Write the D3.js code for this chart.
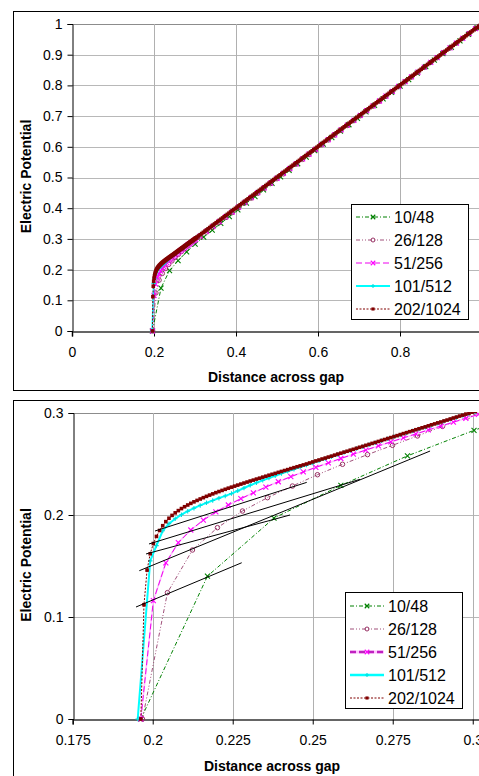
<!DOCTYPE html>
<html>
<head>
<meta charset="utf-8">
<script src="https://cdn.jsdelivr.net/npm/d3@7"></script>
<style>
  body { margin: 0; background: #fff; }
  svg { display: block; }
  text { font-family: "Liberation Sans", Arial, sans-serif; fill: #000; }
</style>
</head>
<body>
<svg id="chart" width="479" height="776"></svg>
<script>
// Series labels (cells across gap / total cells)
const seriesNames = ["10/48", "26/128", "51/256", "101/512", "202/1024"];

// 10/48 mesh: [distance, potential]
const s10 = [[0.1963,0],[0.2171,0.140],[0.2379,0.197],[0.2588,0.229],[0.2796,0.258],[0.3004,0.283],
  [0.3213,0.306],[0.3421,0.3285],[0.3629,0.3507],[0.3838,0.3728],[0.4046,0.3946],[0.4254,0.4163],
  [0.4463,0.4380],[0.4671,0.4595],[0.4879,0.4809],[0.5088,0.5023],[0.5296,0.5236],[0.5504,0.5448],
  [0.5713,0.5661],[0.5921,0.5873],[0.6129,0.6084],[0.6338,0.6296],[0.6546,0.6507],[0.6754,0.6718],
  [0.6963,0.6929],[0.7171,0.7139],[0.7379,0.7349],[0.7588,0.7560],[0.7796,0.7770],[0.8004,0.7980],
  [0.8213,0.8191],[0.8421,0.8401],[0.8629,0.8611],[0.8838,0.8822],[0.9046,0.9032],[0.9254,0.9242],
  [0.9463,0.9453],[0.9671,0.9663],[0.9879,0.9874],[1,1]];

// 26/128 mesh
const s26 = [[0.1968,0],[0.20461,0.1239],[0.21242,0.1657],[0.22023,0.1876],[0.22805,0.2039],
  [0.23586,0.2170],[0.24367,0.2284],[0.25148,0.2395],[0.2593,0.2497],[0.26711,0.2592],
  [0.27492,0.2683],[0.28273,0.2775],[0.29055,0.2869],[0.29836,0.2961],[0.30617,0.3046],
  [0.3125,0.3068],[0.32813,0.3226],[0.34375,0.3384],[0.35938,0.3541],[0.375,0.3699],[0.39063,0.3857],
  [0.40625,0.4014],[0.42188,0.4172],[0.4375,0.4330],[0.45313,0.4487],[0.46875,0.4645],[0.48438,0.4803],
  [0.5,0.4961],[0.51563,0.5118],[0.53125,0.5276],[0.54688,0.5434],[0.5625,0.5591],[0.57813,0.5749],
  [0.59375,0.5907],[0.60938,0.6065],[0.625,0.6222],[0.64063,0.6380],[0.65625,0.6538],[0.67188,0.6696],
  [0.6875,0.6853],[0.70313,0.7011],[0.71875,0.7169],[0.73438,0.7327],[0.75,0.7484],[0.76563,0.7642],
  [0.78125,0.7800],[0.79688,0.7958],[0.8125,0.8116],[0.82813,0.8273],[0.84375,0.8431],[0.85938,0.8589],
  [0.875,0.8747],[0.89063,0.8905],[0.90625,0.9062],[0.92188,0.9220],[0.9375,0.9378],[0.95313,0.9536],
  [0.96875,0.9694],[0.98438,0.9852],[1,1]];

// 51/256 mesh
const s51 = [[0.19629,0],[0.2002,0.116],[0.2041,0.153],[0.20801,0.173],[0.21191,0.1853],[0.21582,0.1950],
  [0.21973,0.2030],[0.22363,0.2098],[0.22754,0.2160],[0.23145,0.2218],[0.23535,0.2274],[0.23926,0.2326],
  [0.24316,0.2376],[0.24707,0.2422],[0.25098,0.2467],[0.25488,0.2511],[0.25879,0.2554],[0.2627,0.2596],
  [0.2666,0.2637],[0.27051,0.2677],[0.27441,0.2717],[0.27832,0.2756],[0.28223,0.2795],[0.28613,0.2834],
  [0.29004,0.2872],[0.29395,0.2910],[0.29785,0.2948],[0.30176,0.2986],
  [0.3125,0.3090],[0.32813,0.3248],[0.34375,0.3405],[0.35938,0.3562],[0.375,0.3719],[0.39063,0.3876],
  [0.40625,0.4033],[0.42188,0.4190],[0.4375,0.4347],[0.45313,0.4504],[0.46875,0.4661],[0.48438,0.4818],
  [0.5,0.4976],[0.51563,0.5133],[0.53125,0.5290],[0.54688,0.5447],[0.5625,0.5604],[0.57813,0.5762],
  [0.59375,0.5919],[0.60938,0.6076],[0.625,0.6234],[0.64063,0.6391],[0.65625,0.6548],[0.67188,0.6706],
  [0.6875,0.6863],[0.70313,0.7020],[0.71875,0.7178],[0.73438,0.7335],[0.75,0.7492],[0.76563,0.7650],
  [0.78125,0.7807],[0.79688,0.7964],[0.8125,0.8121],[0.82813,0.8279],[0.84375,0.8436],[0.85938,0.8593],
  [0.875,0.8750],[0.89063,0.8907],[0.90625,0.9064],[0.92188,0.9220],[0.9375,0.9377],[0.95313,0.9534],
  [0.96875,0.9690],[0.98438,0.9846],[1,1]];

// 101/512 mesh
const s101 = [[0.19531,0],[0.19922,0.155],[0.20117,0.170],[0.20313,0.1845],[0.20508,0.1915],[0.20703,0.1963],
  [0.20898,0.2003],[0.21094,0.2037],[0.21289,0.2067],[0.21484,0.2094],[0.2168,0.2119],[0.21875,0.2142],
  [0.2207,0.2165],[0.22266,0.2187],[0.22461,0.2210],[0.22656,0.2237],[0.22852,0.2265],[0.23047,0.2292],
  [0.23242,0.2316],[0.23438,0.2340],[0.23633,0.2363],[0.23828,0.2385],[0.24023,0.2407],[0.24219,0.2428],
  [0.24414,0.2449],[0.24609,0.2469],[0.24805,0.2489],[0.25,0.2510],[0.25195,0.2531],[0.25391,0.2551],
  [0.25586,0.2571],[0.25781,0.2592],[0.25977,0.2612],[0.26172,0.2631],[0.26367,0.2651],[0.26563,0.2670],
  [0.26758,0.2689],[0.26953,0.2708],[0.27148,0.2728],[0.27344,0.2747],[0.27539,0.2766],[0.27734,0.2785],
  [0.2793,0.2804],[0.28125,0.2823],[0.2832,0.2842],[0.28516,0.2861],[0.28711,0.2881],[0.28906,0.2900],
  [0.29102,0.2919],[0.29297,0.2938],[0.29492,0.2957],[0.29688,0.2976],[0.29883,0.2995],[0.30078,0.3014],
  [0.30273,0.3033],
  [0.3125,0.3130],[0.32813,0.3286],[0.34375,0.3442],[0.35938,0.3598],[0.375,0.3754],[0.39063,0.3910],
  [0.40625,0.4066],[0.42188,0.4222],[0.4375,0.4378],[0.45313,0.4534],[0.46875,0.4690],[0.48438,0.4846],
  [0.5,0.5002],[0.51563,0.5158],[0.53125,0.5314],[0.54688,0.5470],[0.5625,0.5626],[0.57813,0.5782],
  [0.59375,0.5938],[0.60938,0.6094],[0.625,0.6250],[0.64063,0.6406],[0.65625,0.6562],[0.67188,0.6719],
  [0.6875,0.6875],[0.70313,0.7031],[0.71875,0.7187],[0.73438,0.7344],[0.75,0.7500],[0.76563,0.7656],
  [0.78125,0.7812],[0.79688,0.7969],[0.8125,0.8125],[0.82813,0.8281],[0.84375,0.8437],[0.85938,0.8594],
  [0.875,0.8750],[0.89063,0.8906],[0.90625,0.9062],[0.92188,0.9219],[0.9375,0.9375],[0.95313,0.9531],
  [0.96875,0.9687],[0.98438,0.9844],[1,1]];

// 202/1024 mesh, near the gap
const s202near = [[0.19629,0],[0.19727,0.112],[0.19824,0.146],[0.19922,0.162],[0.2002,0.172],[0.20117,0.179],
  [0.20215,0.1848],[0.20313,0.1895],[0.2041,0.1935],[0.20508,0.1968],[0.20605,0.1996],[0.20703,0.2021],
  [0.20801,0.2043],[0.20898,0.2063],[0.20996,0.2081],[0.21094,0.2098],[0.21191,0.2114],[0.21289,0.2129],
  [0.21387,0.2143],[0.21484,0.2157],[0.21582,0.2170],[0.2168,0.2183],[0.21777,0.2195],[0.21875,0.2207],
  [0.21973,0.2219],[0.2207,0.2230],[0.22168,0.2241],[0.22266,0.2252],[0.22363,0.2263],[0.22461,0.2273],
  [0.22559,0.2283],[0.22656,0.2293],[0.22754,0.2303],[0.22852,0.2313],[0.22949,0.2323],[0.23047,0.2333],
  [0.23145,0.2342],[0.23242,0.2352],[0.2334,0.2361],[0.23438,0.2371],[0.23535,0.2380],[0.23633,0.2390],
  [0.2373,0.2399],[0.23828,0.2408],[0.23926,0.2418],[0.24023,0.2427],[0.24121,0.2436],[0.24219,0.2445],
  [0.24316,0.2455],[0.24414,0.2464],[0.24512,0.2473],[0.24609,0.2482],[0.24707,0.2491],[0.24805,0.2500],
  [0.24902,0.2510],[0.25,0.2520],[0.25098,0.2530],[0.25195,0.2539],[0.25293,0.2549],[0.25391,0.2558],
  [0.25488,0.2568],[0.25586,0.2577],[0.25684,0.2587],[0.25781,0.2597],[0.25879,0.2606],[0.25977,0.2616],
  [0.26074,0.2625],[0.26172,0.2635],[0.2627,0.2644],[0.26367,0.2654],[0.26465,0.2664],[0.26563,0.2673],
  [0.2666,0.2683],[0.26758,0.2692],[0.26855,0.2702],[0.26953,0.2711],[0.27051,0.2721],[0.27148,0.2731],
  [0.27246,0.2740],[0.27344,0.2750],[0.27441,0.2759],[0.27539,0.2769],[0.27637,0.2778],[0.27734,0.2788],
  [0.27832,0.2798],[0.2793,0.2807],[0.28027,0.2817],[0.28125,0.2826],[0.28223,0.2836],[0.2832,0.2845],
  [0.28418,0.2855],[0.28516,0.2864],[0.28613,0.2874],[0.28711,0.2884],[0.28809,0.2893],[0.28906,0.2903],
  [0.29004,0.2912],[0.29102,0.2922],[0.29199,0.2931],[0.29297,0.2941],[0.29395,0.2951],[0.29492,0.2960],
  [0.2959,0.2970],[0.29688,0.2979],[0.29785,0.2989],[0.29883,0.2998],[0.2998,0.3008],[0.30078,0.3017],
  [0.30176,0.3027],[0.30273,0.3036]];

// 202/1024 mesh, remainder of the span (every fourth node)
const s202far = [[0.30469,0.3057],[0.30859,0.3096],[0.3125,0.3135],[0.31641,0.3174],[0.32031,0.3213],
  [0.32422,0.3252],[0.32813,0.3291],[0.33203,0.3330],[0.33594,0.3369],[0.33984,0.3408],[0.34375,0.3448],
  [0.34766,0.3487],[0.35156,0.3526],[0.35547,0.3565],[0.35938,0.3604],[0.36328,0.3643],[0.36719,0.3682],
  [0.37109,0.3721],[0.375,0.3760],[0.37891,0.3799],[0.38281,0.3838],[0.38672,0.3877],[0.39063,0.3916],
  [0.39453,0.3955],[0.39844,0.3994],[0.40234,0.4033],[0.40625,0.4073],[0.41016,0.4112],[0.41406,0.4151],
  [0.41797,0.4190],[0.42188,0.4229],[0.42578,0.4268],[0.42969,0.4307],[0.43359,0.4346],[0.4375,0.4385],
  [0.44141,0.4424],[0.44531,0.4463],[0.44922,0.4502],[0.45313,0.4541],[0.45703,0.4580],[0.46094,0.4619],
  [0.46484,0.4658],[0.46875,0.4698],[0.47266,0.4737],[0.47656,0.4776],[0.48047,0.4815],[0.48438,0.4854],
  [0.48828,0.4893],[0.49219,0.4932],[0.49609,0.4971],[0.5,0.5010],[0.50391,0.5049],[0.50781,0.5088],
  [0.51172,0.5127],[0.51563,0.5166],[0.51953,0.5205],[0.52344,0.5244],[0.52734,0.5283],[0.53125,0.5323],
  [0.53516,0.5362],[0.53906,0.5401],[0.54297,0.5440],[0.54688,0.5479],[0.55078,0.5518],[0.55469,0.5557],
  [0.55859,0.5596],[0.5625,0.5635],[0.56641,0.5674],[0.57031,0.5713],[0.57422,0.5752],[0.57813,0.5791],
  [0.58203,0.5830],[0.58594,0.5869],[0.58984,0.5908],[0.59375,0.5948],[0.59766,0.5987],[0.60156,0.6026],
  [0.60547,0.6065],[0.60938,0.6104],[0.61328,0.6143],[0.61719,0.6182],[0.62109,0.6221],[0.625,0.6260],
  [0.62891,0.6299],[0.63281,0.6338],[0.63672,0.6377],[0.64063,0.6416],[0.64453,0.6455],[0.64844,0.6494],
  [0.65234,0.6533],[0.65625,0.6573],[0.66016,0.6612],[0.66406,0.6651],[0.66797,0.6690],[0.67188,0.6729],
  [0.67578,0.6768],[0.67969,0.6807],[0.68359,0.6846],[0.6875,0.6885],[0.69141,0.6924],[0.69531,0.6963],
  [0.69922,0.7002],[0.70313,0.7041],[0.70703,0.7080],[0.71094,0.7119],[0.71484,0.7158],[0.71875,0.7198],
  [0.72266,0.7237],[0.72656,0.7276],[0.73047,0.7315],[0.73438,0.7354],[0.73828,0.7393],[0.74219,0.7432],
  [0.74609,0.7471],[0.75,0.7510],[0.75391,0.7549],[0.75781,0.7588],[0.76172,0.7627],[0.76563,0.7666],
  [0.76953,0.7705],[0.77344,0.7744],[0.77734,0.7783],[0.78125,0.7823],[0.78516,0.7862],[0.78906,0.7901],
  [0.79297,0.7940],[0.79688,0.7979],[0.80078,0.8018],[0.80469,0.8057],[0.80859,0.8096],[0.8125,0.8135],
  [0.81641,0.8174],[0.82031,0.8213],[0.82422,0.8252],[0.82813,0.8291],[0.83203,0.8330],[0.83594,0.8369],
  [0.83984,0.8408],[0.84375,0.8448],[0.84766,0.8487],[0.85156,0.8526],[0.85547,0.8565],[0.85938,0.8604],
  [0.86328,0.8643],[0.86719,0.8682],[0.87109,0.8721],[0.875,0.8760],[0.87891,0.8799],[0.88281,0.8838],
  [0.88672,0.8877],[0.89063,0.8916],[0.89453,0.8955],[0.89844,0.8994],[0.90234,0.9033],[0.90625,0.9073],
  [0.91016,0.9112],[0.91406,0.9151],[0.91797,0.9190],[0.92188,0.9229],[0.92578,0.9268],[0.92969,0.9307],
  [0.93359,0.9346],[0.9375,0.9385],[0.94141,0.9424],[0.94531,0.9463],[0.94922,0.9502],[0.95313,0.9541],
  [0.95703,0.9580],[0.96094,0.9619],[0.96484,0.9658],[0.96875,0.9698],[0.97266,0.9737],[0.97656,0.9776],
  [0.98047,0.9815],[0.98438,0.9854],[0.98828,0.9891],[0.99219,0.9930],[0.99609,0.9966],[1,1]];

const s202 = s202near.concat(s202far);

// Straight reference lines drawn on the close-up: [x1, y1, x2, y2]
const refLines = [
  [0.20072, 0.1843, 0.24813, 0.2320],
  [0.19884, 0.1716, 0.26478, 0.2350],
  [0.19791, 0.1618, 0.24291, 0.2000],
  [0.19581, 0.1454, 0.28666, 0.2627],
  [0.19478, 0.1098, 0.22781, 0.1532]
];

// Tick labels
const fullXTicks = ["0", "0.2", "0.4", "0.6", "0.8", "1"];
const fullYTicks = ["0", "0.1", "0.2", "0.3", "0.4", "0.5", "0.6", "0.7", "0.8", "0.9", "1"];
const zoomXTicks = ["0.175", "0.2", "0.225", "0.25", "0.275", "0.3"];
const zoomYTicks = ["0", "0.1", "0.2", "0.3"];

const seriesData = [s10, s26, s51, s101, s202];

// Line + marker styles per series
const styles = [
  { color: "#008000", dash: "4,2,1,2", width: 1, marker: "x", mcolor: "#008000" },
  { color: "#a0507a", dash: "4,2,1,2,1,2", width: 1, marker: "circle", mcolor: "#993366" },
  { color: "#ee00ee", dash: "6,3", width: 1, marker: "x", mcolor: "#ff00ff", under: "#ffc4ff" },
  { color: "#00ffff", dash: null, width: 1.5, marker: "plus", mcolor: "#00e0e0" },
  { color: "#800000", dash: "2,1.5", width: 1, marker: "square", mcolor: "#800000" }
];

const svg = d3.select("#chart");

function drawMarker(g, type, color, px, py, s) {
  if (type === "square") {
    g.append("rect").attr("x", px - s / 2).attr("y", py - s / 2).attr("width", s).attr("height", s)
      .attr("fill", color);
  } else if (type === "circle") {
    g.append("circle").attr("cx", px).attr("cy", py).attr("r", s / 2)
      .attr("fill", "none").attr("stroke", color).attr("stroke-width", 1);
  } else if (type === "x") {
    const h = s / 2;
    g.append("path").attr("d", `M${px - h},${py - h}L${px + h},${py + h}M${px - h},${py + h}L${px + h},${py - h}`)
      .attr("stroke", color).attr("stroke-width", 1.1).attr("fill", "none");
  } else if (type === "plus") {
    const h = s / 2;
    g.append("path").attr("d", `M${px - h},${py}L${px + h},${py}M${px},${py - h}L${px},${py + h}`)
      .attr("stroke", color).attr("stroke-width", 1.1).attr("fill", "none");
  }
}

const markerSize = { x: 5, circle: 4.5, plus: 4.5, square: 3.6 };

function panel(cfg) {
  const g = svg.append("g");
  // outer chart frame
  g.append("rect").attr("x", 13.5).attr("y", cfg.frameTop + 0.5)
    .attr("width", 520).attr("height", cfg.frameHeight)
    .attr("fill", "#fff").attr("stroke", "#000").attr("stroke-width", 1);

  const x = d3.scaleLinear().domain(cfg.xDomain).range(cfg.xRange);
  const y = d3.scaleLinear().domain(cfg.yDomain).range(cfg.yRange);
  const left = cfg.xRange[0], right = cfg.xRange[1];
  const top = cfg.yRange[1], bottom = cfg.yRange[0];

  const xt = cfg.xTicks.map(Number), yt = cfg.yTicks.map(Number);

  // gridlines
  g.append("g").selectAll("line").data(yt.filter(v => v !== cfg.yDomain[0])).join("line")
    .attr("x1", left).attr("x2", right)
    .attr("y1", d => Math.round(y(d)) + 0.5).attr("y2", d => Math.round(y(d)) + 0.5)
    .attr("stroke", d => d === cfg.yDomain[1] ? "#8c8c8c" : "#b8b8b8").attr("stroke-width", 1);
  g.append("g").selectAll("line").data(xt.filter(v => v !== cfg.xDomain[0])).join("line")
    .attr("x1", d => Math.round(x(d)) + 0.5).attr("x2", d => Math.round(x(d)) + 0.5)
    .attr("y1", top).attr("y2", bottom)
    .attr("stroke", "#b0b0b0").attr("stroke-width", 1);

  // axes
  const xAxis = d3.axisBottom(x).tickValues(xt).tickSize(5).tickPadding(6)
    .tickFormat((d, i) => cfg.xTicks[i]);
  const yAxis = d3.axisLeft(y).tickValues(yt).tickSize(5).tickPadding(5)
    .tickFormat((d, i) => cfg.yTicks[i]);

  const ga = g.append("g").attr("transform", `translate(0,${Math.round(bottom) + 0.5})`).call(xAxis);
  ga.select(".domain").attr("stroke", "#333").attr("stroke-width", 1.6);
  ga.selectAll(".tick line").attr("stroke", "#000");
  ga.selectAll(".tick text").attr("font-size", 14).attr("font-family", "Liberation Sans, Arial, sans-serif")
    .attr("dy", "1.05em");

  const gy = g.append("g").attr("transform", `translate(${Math.round(left) + 0.5},0)`).call(yAxis);
  gy.select(".domain").attr("stroke", "#000");
  gy.selectAll(".tick line").attr("stroke", "#000");
  gy.selectAll(".tick text").attr("font-size", 14).attr("font-family", "Liberation Sans, Arial, sans-serif");

  // axis titles
  g.append("text").attr("x", cfg.xTitleX).attr("y", cfg.xTitleY)
    .attr("text-anchor", "middle").attr("font-size", 14).attr("font-weight", "bold")
    .text("Distance across gap");
  g.append("text").attr("transform", `translate(30.5,${(top + bottom) / 2 - 1}) rotate(-90)`)
    .attr("text-anchor", "middle").attr("font-size", 14).attr("font-weight", "bold")
    .text("Electric Potential");

  // clipped data layer
  const clipId = "clip" + cfg.id;
  svg.append("clipPath").attr("id", clipId).append("rect")
    .attr("x", left - 6).attr("y", top - 1).attr("width", right - left + 12).attr("height", bottom - top + 7);
  const data = g.append("g").attr("clip-path", `url(#${clipId})`);

  const line = d3.line().x(d => x(d[0])).y(d => y(d[1]));
  const zoomed = cfg.id === "zoom";

  seriesData.forEach((s, i) => {
    const st = styles[i];
    const sg = data.append("g");
    if (st.under && zoomed) {
      sg.append("path").attr("d", line(s)).attr("fill", "none").attr("stroke", st.under)
        .attr("stroke-width", 1.6);
    }
    sg.append("path").attr("d", line(s)).attr("fill", "none").attr("stroke", st.color)
      .attr("stroke-width", zoomed && i === 3 ? 2 : st.width)
      .attr("stroke-dasharray", st.dash);
    s.forEach(d => drawMarker(sg, st.marker, st.mcolor, x(d[0]), y(d[1]), markerSize[st.marker]));
  });

  if (cfg.refLines) {
    data.append("g").selectAll("line").data(cfg.refLines).join("line")
      .attr("x1", d => x(d[0])).attr("y1", d => y(d[1]))
      .attr("x2", d => x(d[2])).attr("y2", d => y(d[3]))
      .attr("stroke", "#000").attr("stroke-width", 1);
  }

  // legend
  const L = cfg.legend;
  const lg = g.append("g");
  lg.append("rect").attr("x", L.x + 0.5).attr("y", L.y + 0.5).attr("width", L.w).attr("height", L.h)
    .attr("fill", "#fff").attr("stroke", "#000").attr("stroke-width", 1);
  seriesNames.forEach((name, i) => {
    const st = styles[i];
    const cy = L.y + L.first + i * L.step;
    const x0 = L.x + 5, x1 = L.x + 39, xm = (x0 + x1) / 2;
    if (st.under && zoomed) {
      lg.append("line").attr("x1", x0).attr("x2", x1).attr("y1", cy).attr("y2", cy)
        .attr("stroke", st.under).attr("stroke-width", 3);
    }
    lg.append("line").attr("x1", x0).attr("x2", x1).attr("y1", cy).attr("y2", cy)
      .attr("stroke", zoomed && i === 2 ? "#c020c0" : st.color)
      .attr("stroke-width", zoomed && (i === 2 || i === 3) ? 2.5 : (i === 3 ? 2 : 1))
      .attr("stroke-dasharray", st.dash);
    drawMarker(lg, st.marker, st.mcolor, xm, cy, markerSize[st.marker] - 0.5);
    lg.append("text").attr("x", L.x + 43).attr("y", cy).attr("dy", "0.36em")
      .attr("font-size", 16).text(name);
  });
}

panel({
  id: "full", frameTop: 11, frameHeight: 379,
  xDomain: [0, 1], xRange: [72, 482],
  yDomain: [0, 1], yRange: [331, 24],
  xTicks: fullXTicks, yTicks: fullYTicks,
  xTitleX: 276, xTitleY: 382,
  legend: { x: 351, y: 204, w: 117, h: 115, first: 13, step: 23 }
});

panel({
  id: "zoom", frameTop: 400, frameHeight: 400,
  xDomain: [0.175, 0.3028], xRange: [72.7, 481.7],
  yDomain: [0, 0.3], yRange: [719, 413],
  xTicks: zoomXTicks, yTicks: zoomYTicks,
  xTitleX: 272, xTitleY: 771,
  refLines: refLines,
  legend: { x: 345, y: 592, w: 117, h: 116, first: 14, step: 23 }
});
</script>
</body>
</html>
